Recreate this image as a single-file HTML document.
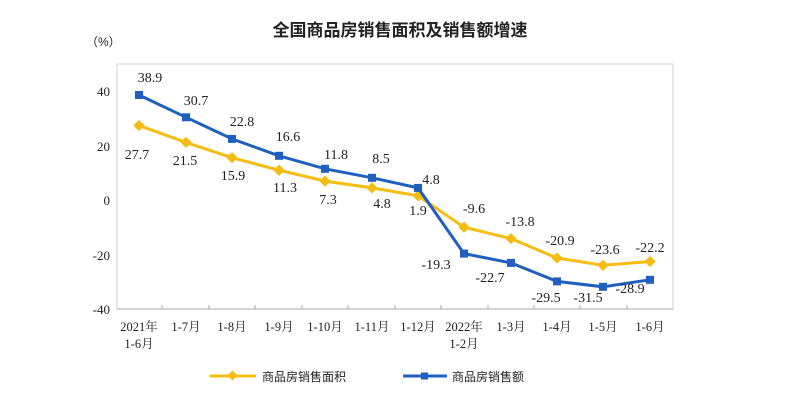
<!DOCTYPE html>
<html><head><meta charset="utf-8"><style>
body{margin:0;background:#fff;}
text{font-family:"Liberation Serif","Noto Serif CJK SC",serif;fill:#222;}
.cjk{font-family:"Liberation Sans","Noto Sans CJK SC",sans-serif;}
</style></head><body>
<svg width="800" height="409" viewBox="0 0 800 409" xmlns="http://www.w3.org/2000/svg">
<text x="400" y="36" text-anchor="middle" class="cjk" font-size="17" font-weight="bold" fill="#111">全国商品房销售面积及销售额增速</text>
<text x="86" y="46" font-size="12" class="cjk">（%）</text>
<rect x="117" y="64" width="556" height="245" fill="none" stroke="#d0d0d0" stroke-width="1"/>
<g stroke="#aaa" stroke-width="1">
<line x1="117" y1="309" x2="673" y2="309"/>
<line x1="162" y1="309" x2="162" y2="305"/><line x1="209" y1="309" x2="209" y2="305"/><line x1="255" y1="309" x2="255" y2="305"/><line x1="302" y1="309" x2="302" y2="305"/><line x1="348" y1="309" x2="348" y2="305"/><line x1="395" y1="309" x2="395" y2="305"/><line x1="441" y1="309" x2="441" y2="305"/><line x1="488" y1="309" x2="488" y2="305"/><line x1="534" y1="309" x2="534" y2="305"/><line x1="580" y1="309" x2="580" y2="305"/><line x1="627" y1="309" x2="627" y2="305"/>
</g>
<g font-size="13" text-anchor="end">
<text x="110" y="96">40</text><text x="110" y="151">20</text><text x="110" y="205">0</text><text x="110" y="260">-20</text><text x="110" y="314">-40</text>
</g>
<g font-size="12.5" text-anchor="middle">
<text x="139" y="331">2021年</text><text x="139" y="348">1-6月</text>
<text x="186" y="331">1-7月</text><text x="232" y="331">1-8月</text><text x="279" y="331">1-9月</text><text x="325" y="331">1-10月</text><text x="372" y="331">1-11月</text><text x="418" y="331">1-12月</text>
<text x="464" y="331">2022年</text><text x="464" y="348">1-2月</text>
<text x="511" y="331">1-3月</text><text x="557" y="331">1-4月</text><text x="603" y="331">1-5月</text><text x="650" y="331">1-6月</text>
</g>
<polyline fill="none" stroke="#f5bd12" stroke-width="3" points="139,125.5 186,142.4 232,157.7 279,170.2 325,181.1 372,187.9 418,195.8 464,227.2 511,238.6 557,258 603,265.3 650,261.5"/>
<g fill="#f5bd12">
<rect x="135" y="121.5" width="8" height="8" transform="rotate(45 139 125.5)"/>
<rect x="182" y="138.4" width="8" height="8" transform="rotate(45 186 142.4)"/>
<rect x="228" y="153.7" width="8" height="8" transform="rotate(45 232 157.7)"/>
<rect x="275" y="166.2" width="8" height="8" transform="rotate(45 279 170.2)"/>
<rect x="321" y="177.1" width="8" height="8" transform="rotate(45 325 181.1)"/>
<rect x="368" y="183.9" width="8" height="8" transform="rotate(45 372 187.9)"/>
<rect x="414" y="191.8" width="8" height="8" transform="rotate(45 418 195.8)"/>
<rect x="460" y="223.2" width="8" height="8" transform="rotate(45 464 227.2)"/>
<rect x="507" y="234.6" width="8" height="8" transform="rotate(45 511 238.6)"/>
<rect x="553" y="254" width="8" height="8" transform="rotate(45 557 258)"/>
<rect x="599" y="261.3" width="8" height="8" transform="rotate(45 603 265.3)"/>
<rect x="646" y="257.5" width="8" height="8" transform="rotate(45 650 261.5)"/>
</g>
<polyline fill="none" stroke="#1f5fbf" stroke-width="3" points="139,95 186,117.3 232,138.9 279,155.8 325,168.8 372,177.8 418,187.9 464,253.6 511,262.9 557,281.4 603,286.8 650,279.8"/>
<g fill="#1f5fbf">
<rect x="135" y="91" width="8" height="8"/><rect x="182" y="113.3" width="8" height="8"/><rect x="228" y="134.9" width="8" height="8"/><rect x="275" y="151.8" width="8" height="8"/><rect x="321" y="164.8" width="8" height="8"/><rect x="368" y="173.8" width="8" height="8"/><rect x="414" y="183.9" width="8" height="8"/><rect x="460" y="249.6" width="8" height="8"/><rect x="507" y="258.9" width="8" height="8"/><rect x="553" y="277.4" width="8" height="8"/><rect x="599" y="282.8" width="8" height="8"/><rect x="646" y="275.8" width="8" height="8"/>
</g>
<g font-size="14" text-anchor="middle">
<text x="150" y="82">38.9</text><text x="196" y="105">30.7</text><text x="242" y="126">22.8</text><text x="288" y="141">16.6</text><text x="336" y="159">11.8</text><text x="381" y="163">8.5</text><text x="431" y="184">4.8</text>
<text x="137" y="159">27.7</text><text x="185" y="165">21.5</text><text x="233" y="180">15.9</text><text x="285" y="192">11.3</text><text x="328" y="204">7.3</text><text x="382" y="208">4.8</text><text x="418" y="215">1.9</text>
<text x="474" y="213">-9.6</text><text x="520" y="226">-13.8</text><text x="560" y="245">-20.9</text><text x="605" y="254">-23.6</text><text x="650" y="252">-22.2</text>
<text x="436" y="269">-19.3</text><text x="490" y="282">-22.7</text><text x="546" y="302">-29.5</text><text x="588" y="302">-31.5</text><text x="630" y="293">-28.9</text>
</g>
<line x1="210" y1="376" x2="256" y2="376" stroke="#f5bd12" stroke-width="3"/>
<rect x="229" y="372" width="7" height="7" fill="#f5bd12" transform="rotate(45 232.5 375.5)"/>
<text x="262" y="381" font-size="12" class="cjk" fill="#444">商品房销售面积</text>
<line x1="403" y1="376" x2="447" y2="376" stroke="#1f5fbf" stroke-width="3"/>
<rect x="421" y="372.5" width="7" height="7" fill="#1f5fbf"/>
<text x="452" y="381" font-size="12" class="cjk" fill="#444">商品房销售额</text>
</svg>
</body></html>
